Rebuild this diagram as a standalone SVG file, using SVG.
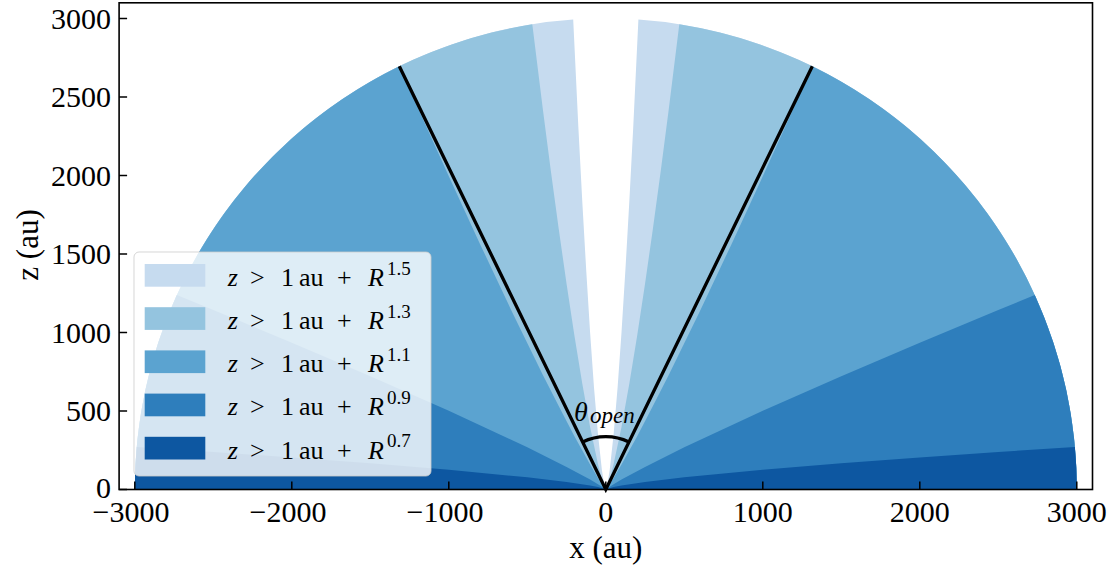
<svg xmlns="http://www.w3.org/2000/svg" width="1114" height="571" viewBox="0 0 1114 571">
<style>
.t{font-family:"Liberation Serif","DejaVu Serif",serif;fill:#000}
.tk{font-size:30px}
.ax{font-size:31px}
.lg{font-size:26px}
.it{font-style:italic}
.sup{font-size:19px}
.c15{fill:#c6dbef}.c13{fill:#94c4df}.c11{fill:#5ba3d0}.c09{fill:#2e7ebc}.c07{fill:#0d57a1}
.tick{stroke:#000;stroke-width:1.5}
</style>
<rect width="1114" height="571" fill="#fff"/>
<g id="regions">
<path class="c15" d="M 134.8,489.5 A 471,471 0 0 1 573.2,19.6 L 578.3,126.0 L 582.25,201.1 L 586.2,270.1 L 590.1,332.5 L 594.0,387.5 L 597.95,434.0 L 601.9,469.9 L 604.2,484.5 L 605.8,489.3 L 607.4,484.5 L 609.7,469.9 L 613.65,434.0 L 617.6,387.5 L 621.5,332.5 L 625.4,270.1 L 629.35,201.1 L 633.3,126.0 L 638.4,19.6 A 471,471 0 0 1 1076.8,489.5 Z"/>
<path class="c13" d="M 134.8,489.5 A 471,471 0 0 1 532.3,24.3 L 543.0,110.6 L 550.85,171.0 L 558.7,228.8 L 566.55,283.8 L 574.4,335.6 L 582.25,383.6 L 590.1,427.0 L 597.95,464.1 L 601.9,479.2 L 604.2,486.4 L 605.8,489.5 L 607.4,486.4 L 609.7,479.2 L 613.65,464.1 L 621.5,427.0 L 629.35,383.6 L 637.2,335.6 L 645.05,283.8 L 652.9,228.8 L 660.75,171.0 L 668.6,110.6 L 679.3,24.3 A 471,471 0 0 1 1076.8,489.5 Z"/>
<path class="c11" d="M 134.8,489.5 A 471,471 0 0 1 399.34,66.15 L 425.25,124.2 L 448.8,176.2 L 480.2,244.4 L 511.6,310.9 L 543.0,375.2 L 558.7,406.1 L 574.4,436.2 L 590.1,464.6 L 597.95,477.9 L 604.2,487.5 L 605.8,489.5 L 607.4,487.5 L 613.65,477.9 L 621.5,464.6 L 637.2,436.2 L 652.9,406.1 L 668.6,375.2 L 700.0,310.9 L 731.4,244.4 L 762.8,176.2 L 786.35,124.2 L 812.26,66.15 A 471,471 0 0 1 1076.8,489.5 Z"/>
<path class="c09" d="M 134.8,489.5 A 471,471 0 0 1 176.8,295.1 L 213.3,310.0 L 291.8,342.7 L 370.3,376.2 L 448.8,410.8 L 527.3,447.3 L 566.55,466.9 L 590.1,479.6 L 597.95,484.2 L 604.2,488.25 L 605.8,489.5 L 607.4,488.25 L 613.65,484.2 L 621.5,479.6 L 645.05,466.9 L 684.3,447.3 L 762.8,410.8 L 841.3,376.2 L 919.8,342.7 L 998.3,310.0 L 1034.8,295.1 A 471,471 0 0 1 1076.8,489.5 Z"/>
<path class="c07" d="M 134.8,489.5 A 471,471 0 0 1 136.7,447.0 L 213.3,452.0 L 291.8,457.4 L 370.3,463.2 L 448.8,469.7 L 527.3,477.3 L 566.55,482.0 L 590.1,485.6 L 597.95,487.1 L 604.2,488.7 L 605.8,489.5 L 607.4,488.7 L 613.65,487.1 L 621.5,485.6 L 645.05,482.0 L 684.3,477.3 L 762.8,469.7 L 841.3,463.2 L 919.8,457.4 L 998.3,452.0 L 1074.9,447.0 A 471,471 0 0 1 1076.8,489.5 Z"/>
</g>
<g id="connectors" fill="none" stroke="#000" stroke-width="3.3">
<path d="M 399.3,66.2 L 605.8,489.5 L 812.3,66.2"/>
<path d="M 582.6,441.9 A 53,53 0 0 1 629.0,441.9"/>
</g>
<g id="theta-label">
<text class="t it" x="574" y="421" font-size="28">θ<tspan x="590" y="423" font-size="23">open</tspan></text>
</g>
<g id="axes">
<rect x="119.1" y="2.8" width="973.4" height="486.7" fill="none" stroke="#000" stroke-width="1.6"/>
<g class="tick">
<line x1="134.8" y1="489.5" x2="134.8" y2="481.5"/>
<line x1="291.8" y1="489.5" x2="291.8" y2="481.5"/>
<line x1="448.8" y1="489.5" x2="448.8" y2="481.5"/>
<line x1="605.8" y1="489.5" x2="605.8" y2="481.5"/>
<line x1="762.8" y1="489.5" x2="762.8" y2="481.5"/>
<line x1="919.8" y1="489.5" x2="919.8" y2="481.5"/>
<line x1="1076.8" y1="489.5" x2="1076.8" y2="481.5"/>
<line x1="119.1" y1="489.5" x2="127.1" y2="489.5"/>
<line x1="119.1" y1="411" x2="127.1" y2="411"/>
<line x1="119.1" y1="332.5" x2="127.1" y2="332.5"/>
<line x1="119.1" y1="254" x2="127.1" y2="254"/>
<line x1="119.1" y1="175.5" x2="127.1" y2="175.5"/>
<line x1="119.1" y1="97" x2="127.1" y2="97"/>
<line x1="119.1" y1="18.5" x2="127.1" y2="18.5"/>
</g>
<g class="t tk" text-anchor="middle">
<text x="131" y="522">−3000</text>
<text x="288" y="522">−2000</text>
<text x="445" y="522">−1000</text>
<text x="605.8" y="522">0</text>
<text x="762.8" y="522">1000</text>
<text x="919.8" y="522">2000</text>
<text x="1076.8" y="522">3000</text>
</g>
<g class="t ax" text-anchor="middle">
<text x="605.8" y="558">x (au)</text>
<text transform="translate(38,245) rotate(-90)">z (au)</text>
</g>
<g class="t tk" text-anchor="end">
<text x="111" y="497.5">0</text>
<text x="111" y="421">500</text>
<text x="111" y="342.5">1000</text>
<text x="111" y="264">1500</text>
<text x="111" y="185.5">2000</text>
<text x="111" y="107">2500</text>
<text x="111" y="28.5">3000</text>
</g>
</g>
<g id="legend">
<rect x="134" y="252" width="297" height="224" rx="5" fill="#fff" fill-opacity="0.8" stroke="#ccc" stroke-opacity="0.8" stroke-width="1"/>
<rect class="c15" x="144.7" y="264" width="60.6" height="22.7"/>
<rect class="c13" x="144.7" y="307.2" width="60.6" height="22.7"/>
<rect class="c11" x="144.7" y="350.4" width="60.6" height="22.7"/>
<rect class="c09" x="144.7" y="393.6" width="60.6" height="22.7"/>
<rect class="c07" x="144.7" y="436.8" width="60.6" height="22.7"/>
<text class="t lg" y="285.7"><tspan x="227.7" class="it">z </tspan><tspan x="250">&gt; </tspan><tspan x="281">1 </tspan><tspan x="299">au </tspan><tspan x="337">+ </tspan><tspan x="368" class="it">R</tspan><tspan x="387" y="274.5" class="sup">1.5</tspan></text>
<text class="t lg" y="328.9"><tspan x="227.7" class="it">z </tspan><tspan x="250">&gt; </tspan><tspan x="281">1 </tspan><tspan x="299">au </tspan><tspan x="337">+ </tspan><tspan x="368" class="it">R</tspan><tspan x="387" y="317.7" class="sup">1.3</tspan></text>
<text class="t lg" y="372.1"><tspan x="227.7" class="it">z </tspan><tspan x="250">&gt; </tspan><tspan x="281">1 </tspan><tspan x="299">au </tspan><tspan x="337">+ </tspan><tspan x="368" class="it">R</tspan><tspan x="387" y="360.9" class="sup">1.1</tspan></text>
<text class="t lg" y="415.3"><tspan x="227.7" class="it">z </tspan><tspan x="250">&gt; </tspan><tspan x="281">1 </tspan><tspan x="299">au </tspan><tspan x="337">+ </tspan><tspan x="368" class="it">R</tspan><tspan x="387" y="404.1" class="sup">0.9</tspan></text>
<text class="t lg" y="458.5"><tspan x="227.7" class="it">z </tspan><tspan x="250">&gt; </tspan><tspan x="281">1 </tspan><tspan x="299">au </tspan><tspan x="337">+ </tspan><tspan x="368" class="it">R</tspan><tspan x="387" y="447.3" class="sup">0.7</tspan></text>
</g>
</svg>
